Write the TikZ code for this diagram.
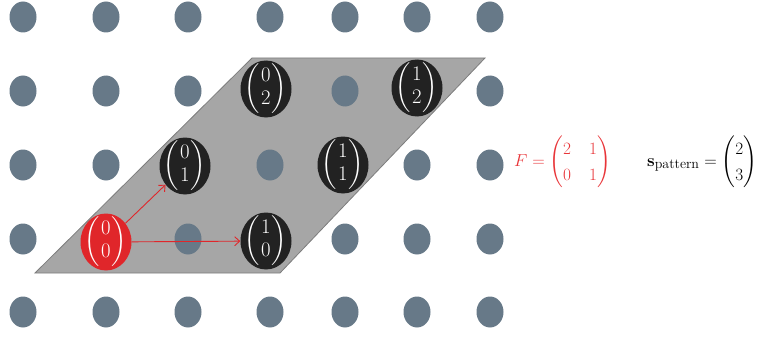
\documentclass[tikz,border=0pt]{standalone}
\usepackage{amsmath}
\usetikzlibrary{shapes.geometric,arrows.meta}
\definecolor{dotc}{RGB}{103,121,136}
\definecolor{blk}{RGB}{34,34,34}
\definecolor{redc}{RGB}{224,38,42}
\definecolor{redt}{RGB}{232,52,56}
\definecolor{parg}{RGB}{166,166,166}
\definecolor{pedge}{RGB}{125,125,125}
\newcommand\vecpar[2]{{\renewcommand{\arraystretch}{1.0}$\left(\rule[-21pt]{0pt}{42pt}\mkern1mu\begin{matrix}#1\\#2\end{matrix}\mkern1mu\right)$}}
\begin{document}
\begin{tikzpicture}[x=1pt,y=-1pt,
  latdot/.style={ellipse,fill=dotc,minimum width=27pt,minimum height=31pt,inner sep=0pt},
  vecnode/.style={ellipse,fill=blk,minimum width=51pt,minimum height=57pt,inner sep=0pt},
  rednode/.style={vecnode,fill=redc},
  vectext/.style={text=white,inner sep=0pt,font=\fontsize{21}{23}\selectfont},
  redarrow/.style={draw=redc,line width=0.9pt,-{Straight Barb[length=5pt,width=9pt]}},
  formula/.style={anchor=west,inner sep=0pt,font=\fontsize{16.5}{19.8}\selectfont}]
\useasboundingbox (0,0) rectangle (763,337);
% parallelogram
\draw[fill=parg,draw=pedge,line width=0.8pt] (35,273) -- (252,58) -- (485,58) -- (280,273) -- cycle;
% lattice dots
\foreach \x in {23,106,188,270,345,417,490}
  \foreach \y in {17,91,165,239,312}
    \node[latdot] (d-\x-\y) at (\x,\y) {};
% vector nodes
\node[rednode] (n00) at (106,242) {};
\node[vecnode] (n10) at (266,241) {};
\node[vecnode] (n01) at (185,166) {};
\node[vecnode] (n11) at (343,165) {};
\node[vecnode] (n02) at (266,89) {};
\node[vecnode] (n12) at (417,88) {};
\node[vectext] (t00) at (n00) {\vecpar{0}{0}};
\node[vectext] (t10) at (n10) {\vecpar{1}{0}};
\node[vectext] (t01) at (n01) {\vecpar{0}{1}};
\node[vectext] (t11) at (n11) {\vecpar{1}{1}};
\node[vectext] (t02) at (n02) {\vecpar{0}{2}};
\node[vectext] (t12) at (n12) {\vecpar{1}{2}};
% arrows
\draw[redarrow] (n00) -- (n10);
\draw[redarrow] (n00) -- (n01);
% formulas
\node[formula,text=redt] (F) at (514,162) {\renewcommand{\arraystretch}{1.3}\setlength{\arraycolsep}{9pt}$F=\begin{pmatrix}2&1\\0&1\end{pmatrix}$};
\node[formula] (S) at (647,162) {\renewcommand{\arraystretch}{1.3}$\mathbf{s}_{\mbox{\fontsize{14}{16}\selectfont pattern}}=\begin{pmatrix}2\\3\end{pmatrix}$};
\end{tikzpicture}
\end{document}
